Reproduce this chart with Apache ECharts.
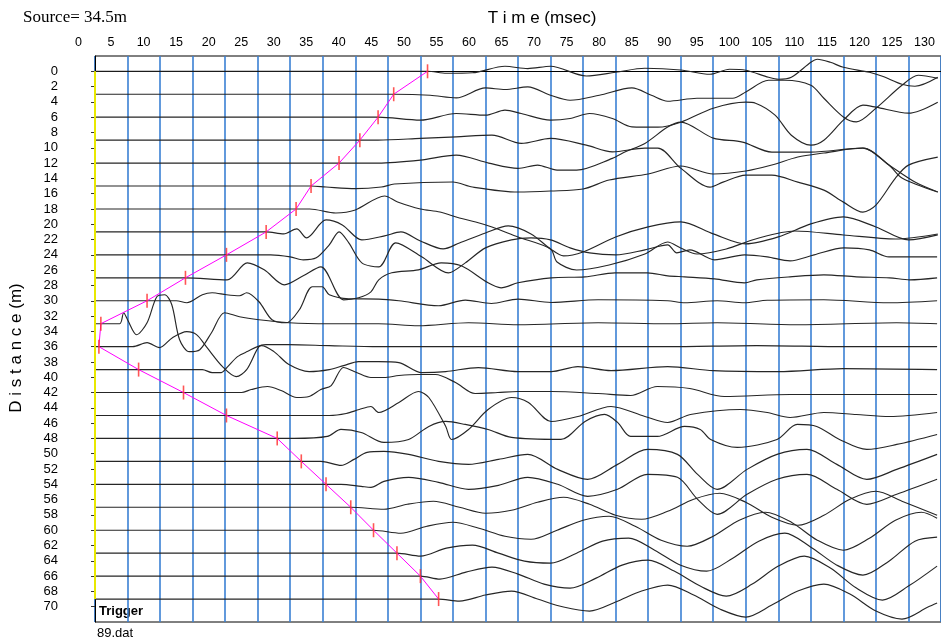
<!DOCTYPE html>
<html><head><meta charset="utf-8">
<script src="https://cdn.jsdelivr.net/npm/echarts@6/dist/echarts.min.js"></script>
<style>html,body{margin:0;padding:0;background:#fff}#c{width:941px;height:643px}</style>
</head><body><div id="c"></div>
<script>
// Trace positions (m), first-break picks (ms after trigger)
const DIST = [0,3,6,9,12,15,18,21,24,27,30,33,36,39,42,45,48,51,54,57,60,63,66,69];
const PICKS = [51.1,45.9,43.5,40.7,37.5,33.2,30.9,26.3,20.2,13.9,8.0,0.9,0.6,6.7,13.6,20.2,28.0,31.7,35.5,39.3,42.8,46.4,50.0,52.8];
const X_TICKS = [0,5,10,15,20,25,30,35,40,45,50,55,60,65,70,75,80,85,90,95,100,105,110,115,120,125,130];
const Y_TICKS = [0,2,4,6,8,10,12,14,16,18,20,22,24,26,28,30,32,34,36,38,40,42,44,46,48,50,52,54,56,58,60,62,64,66,68,70];
// Trace amplitudes after the pick: [time ms, amplitude (up positive)]
const T00 = [[54,-2],[58,-1.5],[63,5],[66.5,2.7],[70,5],[75.5,-4.7],[80,-1],[84.5,3],[90,1.3],[94.5,-3],[97.5,2],[100,1],[103.5,-6],[105,-8],[107,-6],[110,9],[111,12],[113,9],[115,4],[119,-1],[121,-5],[124,-13],[126,-15],[129.5,-6]];
const T03 = [[51.5,-1],[55.5,-3.7],[60,6.3],[63,4.7],[66.5,7.3],[70,-1],[73,-6],[77.5,-1],[82.5,6.3],[85.5,-1],[88,-7],[92.5,-4],[98,-4],[100,2.3],[103.5,14],[106,14],[110,9],[112,-4],[115,-22.7],[117,-27.7],[120,-14],[124,9],[126.5,19],[129.5,16]];
const T06 = [[50,-3],[55.5,3.7],[60,2],[63,7],[65.5,3.7],[70,-3],[73,-1.3],[76,3.7],[79.5,-1.3],[82.5,-9.7],[86.5,-10],[90,-5],[95,9],[100,15],[101.5,14],[104.5,2],[107,-18],[110,-28],[112,-23],[115,-3],[118,12],[120,10],[125,4],[129.5,15]];
const T09 = [[43.5,0],[50,1.7],[55.5,3.3],[61,5],[65.5,-3.3],[70,1.7],[75.5,-5],[79.5,-11.7],[84.5,-8],[86.5,-8],[90,-28],[94.5,-47],[96.5,-42],[100,-35],[104,-35],[108,-42],[112,-50],[115,-62],[118,-72],[120,-65],[123,-38],[125,-25],[129.5,-17]];
const T12 = [[40,0],[43.5,0],[50,3],[55.5,8],[60.5,0],[65,-5.3],[68,-2],[71,-7],[74,-7],[79.5,4.7],[81.5,11.3],[84.5,19.7],[88,36],[90,41],[95,25],[99.5,21],[104,11],[110,11],[118,15],[122,-2],[124,-15],[129.5,-29]];
const T15 = [[35.5,-1],[40,-2.6],[44,-1],[46,2],[55,4],[58,-1],[65,-6],[70,-5],[75,-3],[79,6],[85,12],[90,20],[95,12],[100,15],[104,21],[108,29],[112,33],[118,38],[122,21],[126,4],[129.5,-6]];
const T18 = [[33,0],[37,-4],[40,-1],[44.5,13],[46.5,7],[50,0],[53,-3],[56,-9],[58.5,-13],[61,-18],[65,-28],[70,-40],[71,-53],[74,-61],[79,-56],[84.5,-45],[88,-33],[90,-39],[92.5,-45],[97,-40],[101.5,-30],[107.5,-22],[115,-26],[123,-30],[129.5,-25]];
const T21 = [[29,-2],[31,3],[32.5,-6],[35.5,12],[38,7],[41,-8],[44.5,-4],[47,0],[50,-9],[53.5,-17],[56,-11],[60,-1],[63.5,6],[67,-2],[70,-17],[72,-24],[75,-20],[80,-5],[85,5],[90,10],[95,-2],[100,-12],[105,-5],[110,8],[115,15],[120,5],[125,-8],[129.5,-3]];
const T24 = [[27,0],[30,-2],[32,-5],[34,-3],[36,10],[37.5,23],[39,12],[41,-8],[43.6,-12],[46.2,12],[50.2,-2],[54.3,-18],[56.9,-8],[60,7],[64,15],[67,17],[70,15],[73,7],[76,2],[80,0],[84.5,5],[88,10],[89.4,2],[91.4,5],[95.2,-5],[99.8,0],[103.3,-2],[106.8,-6],[110.5,0],[115.1,7],[119,5],[122,-2],[129.4,-2]];
const T27 = [[20.3,-2],[23.4,15],[26,8],[29.1,-7],[32,2],[34.7,11],[38.2,-22],[40.5,-20],[42.4,-14],[43.6,-2],[45.6,5],[49.7,8],[53.2,15],[56.3,12],[60.4,-5],[62.4,-10],[65,-5],[70.1,0],[75.3,1],[79.9,5],[84.9,5],[88,2],[90.6,1],[95.2,-1],[99.8,-5],[101.7,-2],[106.8,1],[112,3],[117,1],[122.1,0],[125.2,-2],[129.4,0]];
const T30 = [[12.5,0],[14.1,-2],[16.5,6],[18,8],[20.2,6],[22.2,5],[23.3,8],[25.2,-1],[27.2,-19],[29.4,-22],[31.4,-9],[33.4,14],[34.9,14],[36,6],[39,2],[43.6,1.7],[46.7,0],[52.8,-5],[56.9,0.7],[60.9,-2.7],[65,1.7],[70.1,-1.7],[77.3,1],[88,0],[90.6,-2],[95.6,0],[99.8,-2],[103.3,0.5],[112,1],[122,-2],[129.4,0]];
const T33 = [[3.8,0],[4.4,11],[5,4],[6.4,-11],[8,1],[9.5,27],[10.7,29],[11.8,19],[13,-16],[14.5,-28],[16.1,-26],[17.9,-9],[19.9,11],[22.2,7],[25.2,4],[29.8,1],[36,0],[43.6,0],[49.7,-2],[57.4,1],[65,-1],[77.3,1],[88,0],[95.6,1],[107.9,-1],[123.2,1],[129.4,0]];
const T36 = [[5.8,0],[8,4],[9.9,-1],[11.9,9],[14.1,15],[15.6,12],[17.1,0],[19.6,-20],[21.7,-30],[23.3,-23],[25.2,0],[26.3,2],[29.8,2],[36,1],[43.6,0],[54.3,0],[69.6,0],[88,0],[101.7,1],[115.5,0],[129.4,0]];
const T39 = [[16.5,0],[18,-3],[19.4,-3],[20.4,3],[21.9,13],[23.4,18],[25.6,24],[27.5,18],[29.8,5],[32.9,-2],[36,0],[38.2,4],[40.5,8],[43.6,8],[46.7,7],[50.2,-3],[53.9,-2],[58.9,2],[65,-2],[70.1,-2],[74.2,3],[79.3,-1],[88,3],[95,-1],[105,-2],[115,1],[129.4,0]];
const T42 = [[22.5,0],[24,3],[26.5,6],[28.6,2],[31,-5],[32.9,-4],[34.7,3],[36.3,7],[38.2,25],[40.2,20],[42.4,15],[44.4,15],[46.7,17],[49.7,18],[52.3,18],[55.4,10],[58.4,-1],[61.9,0],[65,1],[70.1,1],[77.3,-1],[82.3,-3],[86.4,6],[91.4,4],[96.7,-4],[106.8,-2],[116,-2],[129.4,-2]];
const T45 = [[36,0],[38.6,2],[40.6,6],[42.4,9],[43.6,3],[46.7,13],[49.7,24],[51.3,18],[53.9,-11],[54.8,-24],[57.4,-14],[60.4,6],[64,18],[66.6,13],[70.1,-6],[74.2,-1],[79.3,9],[84.5,-1],[88,-7],[91.5,1],[99.2,6],[103.3,3],[106.8,-2],[112,3],[117,1],[122.1,-1],[129.4,3]];
const T48 = [[30.6,0],[35.7,2],[37.8,9],[40.9,6],[44.4,-4],[48.2,-1],[51.3,12],[53.9,17],[56.9,14],[60.4,9],[64,1],[71.6,-1],[75.3,17],[78.3,24],[80.3,16],[82.3,2],[86.4,2],[90.6,12],[93,9],[94.6,-1],[98.7,-9],[104.8,-1],[107.9,14],[110.9,12],[114.4,-1],[118.6,-11],[123.2,-6],[129.4,4]];
const T51 = [[34.7,0],[35.7,-1],[37.8,-4],[39.8,2],[41.8,9],[44.4,10],[48.2,7],[52.8,0],[57.4,-3],[62,2],[66.5,7],[71.1,-8],[75.7,-18],[80.3,-3],[84.9,12],[89.5,7],[92.6,-13],[95.6,-28],[100.2,-8],[104.8,7],[109.4,12],[114,-3],[118.6,-18],[123.2,-8],[129.4,7]];
const T54 = [[37.8,0],[40.9,-2],[42.4,-3],[44.4,3],[48.2,7],[52.8,2],[57.4,-5],[62,-1],[66.5,7],[71.1,0],[75.7,-12],[80.3,-5],[84.9,10],[89.5,7],[92.6,-15],[95.6,-30],[100.2,-10],[104.8,5],[109.4,10],[114,-5],[118.6,-20],[123.2,-10],[129.4,5]];
const T57 = [[44.4,-2],[48,3],[52,6],[56,0],[60,-6],[64,-3],[68,5],[72,10],[76,3],[80,-8],[84,-12],[88,-4],[92,8],[96,14],[100,5],[104,-10],[108,-18],[112,-8],[116,8],[120,16],[124,6],[129.4,-8]];
const T60 = [[47,-3],[51,4],[55,8],[59,2],[63,-6],[67,-9],[71,0],[75,10],[79,14],[83,4],[87,-10],[91,-16],[95,-6],[99,10],[103,18],[107,8],[111,-10],[115,-20],[119,-8],[123,10],[127,18],[129.4,12]];
const T63 = [[50,-3],[54,5],[58,8],[62,0],[66,-8],[70,-10],[74,0],[78,12],[82,15],[86,3],[90,-12],[94,-18],[98,-5],[102,12],[106,20],[110,6],[114,-12],[118,-22],[122,-8],[126,12],[129.4,16]];
const T66 = [[53,-3],[57,4],[61,9],[65,2],[69,-8],[73,-12],[77,-2],[81,11],[85,16],[89,5],[93,-10],[97,-20],[101,-8],[105,10],[109,20],[113,8],[117,-12],[121,-24],[125,-10],[129.4,10]];
const T69 = [[56,-2],[60,4],[64,8],[68,0],[72,-8],[76,-12],[80,-3],[84,8],[88,14],[92,4],[96,-10],[100,-18],[104,-6],[108,8],[112,15],[116,5],[120,-12],[124,-20],[128,-8],[129.4,-4]];
const TRACES = [T00,T03,T06,T09,T12,T15,T18,T21,T24,T27,T30,T33,T36,T39,T42,T45,T48,T51,T54,T57,T60,T63,T66,T69];
const GAIN = 1/7.65; // display gain: metres of offset per amplitude unit

const series = [];
DIST.forEach((d, i) => {
  const pts = [[0, d], [PICKS[i], d]];
  TRACES[i].forEach(([t, a]) => { if (t > PICKS[i]) pts.push([t, d - a * GAIN]); });
  series.push({type:'line', data:pts, symbol:'none', smooth:0.3, silent:true, z:3,
    lineStyle:{color:'#262626', width:1.15}});
});
const pickPts = DIST.map((d, i) => [PICKS[i], d]);
series.push({type:'line', data:pickPts, symbol:'none', silent:true, z:4,
  lineStyle:{color:'#ff00ff', width:1}});
series.push({type:'scatter', data:pickPts, symbol:'rect', symbolSize:[1.6,14], silent:true, z:5,
  itemStyle:{color:'#ff2a2a'}});
series.push({type:'line', data:[], silent:true, z:6,
  markLine:{silent:true, symbol:['none','none'], label:{show:false},
    lineStyle:{color:'#e8e800', width:2, type:'solid'},
    data:[[{coord:[0, DIST[0]]},{coord:[0, DIST[DIST.length-1]]}]]}});

const chart = echarts.init(document.getElementById('c'), null, {renderer:'canvas'});
chart.setOption({
  animation:false,
  backgroundColor:'#fff',
  grid:{left:95, top:56, width:849.7, height:566, show:true, borderColor:'#000', borderWidth:1, backgroundColor:'transparent'},
  xAxis:{type:'value', position:'top', min:0, max:130, interval:5,
    axisLine:{show:true, lineStyle:{color:'#000', width:1}},
    axisTick:{show:false},
    splitLine:{show:true, lineStyle:{color:'#3a80d4', width:1.6}},
    axisLabel:{margin:7, color:'#000', fontFamily:'Liberation Sans', fontSize:12.5,
      customValues:X_TICKS,
      formatter:v => '{a|' + v + '}',
      rich:{a:{padding:[0,33,0,0], fontFamily:'Liberation Sans', fontSize:12.5, color:'#000'}}}},
  yAxis:{type:'value', inverse:true, min:-2, max:72, interval:2,
    axisLine:{show:true, lineStyle:{color:'#000', width:1}},
    axisTick:{show:true, length:4, customValues:Y_TICKS, lineStyle:{color:'#333'}},
    axisLabel:{margin:37, color:'#000', fontFamily:'Liberation Sans', fontSize:13, customValues:Y_TICKS},
    splitLine:{show:false}},
  graphic:[
    {type:'text', x:23, y:18, style:{text:'Source= 34.5m', font:'17px "Liberation Serif"', fill:'#000', verticalAlign:'middle'}},
    {type:'text', x:542, y:18, style:{text:'T i m e (msec)', font:'17px "Liberation Sans"', fill:'#000', align:'center', verticalAlign:'middle'}},
    {type:'text', x:16, y:348, rotation:Math.PI/2, style:{text:'D i s t a n c e (m)', font:'17px "Liberation Sans"', fill:'#000', align:'center', verticalAlign:'middle'}},
    {type:'text', x:99, y:611, style:{text:'Trigger', font:'bold 13px "Liberation Sans"', fill:'#000', verticalAlign:'middle'}},
    {type:'text', x:97, y:633, style:{text:'89.dat', font:'13px "Liberation Sans"', fill:'#000', verticalAlign:'middle'}}
  ],
  series
});
</script></body></html>
